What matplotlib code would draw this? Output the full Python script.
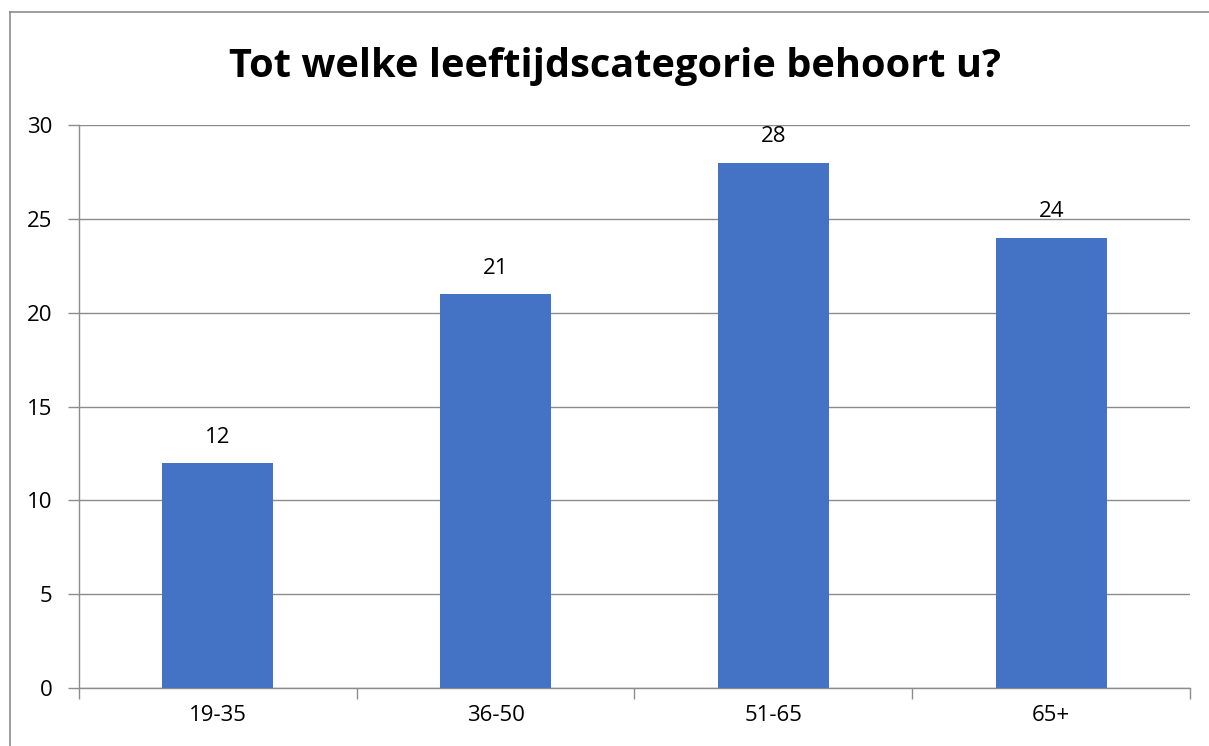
import matplotlib
matplotlib.use("Agg")
import matplotlib.pyplot as plt
from matplotlib.lines import Line2D

# survey counts per age group
categories = ["19-35", "36-50", "51-65", "65+"]
counts = [12, 21, 28, 24]
y_ticks = [0, 5, 10, 15, 20, 25, 30]

plt.rcParams['font.family'] = ['Open Sans', 'DejaVu Sans']

fig = plt.figure(figsize=(12.09, 7.46), dpi=100)
ax = fig.add_axes([0.0653, 0.0777, 0.9190, 0.7547])

x = range(len(categories))
ax.bar(x, counts, width=0.4, color="#4472C4", zorder=3)
for xi, v in zip(x, counts):
    ax.annotate(str(v), (xi, v), xytext=(0, 11), textcoords="offset points",
                ha="center", va="bottom", fontsize=16, color="#000000")

ax.set_xlim(-0.5, len(categories) - 0.5)
ax.set_ylim(0, 30)
ax.set_yticks(y_ticks)
ax.set_yticklabels([str(t) for t in y_ticks], fontsize=16)
ax.yaxis.grid(True, color="#8c8c8c", linewidth=1.0, zorder=0)

# category labels centred, tick marks on the boundaries
ax.set_xticks(list(x))
ax.set_xticklabels(categories, fontsize=16)
ax.tick_params(axis="x", length=0, pad=12)
ax.set_xticks([i - 0.5 for i in range(len(categories) + 1)], minor=True)
ax.tick_params(axis="x", which="minor", length=8, color="#8c8c8c", width=1.0)
ax.tick_params(axis="y", length=8, color="#8c8c8c", width=1.0, pad=11)

for side in ["top", "right"]:
    ax.spines[side].set_visible(False)
for side in ["left", "bottom"]:
    ax.spines[side].set_color("#8c8c8c")
    ax.spines[side].set_linewidth(1.0)

fig.text(0.509, 1 - 67 / 746, "Tot welke leeftijdscategorie behoort u?",
         fontsize=28.6, fontweight="bold", ha="center", va="center")

# chart area border
fig.add_artist(Line2D([10 / 1209, 10 / 1209], [0, 1 - 12 / 746],
                      transform=fig.transFigure, color="#8c8c8c", linewidth=1.2))
fig.add_artist(Line2D([10 / 1209, 1], [1 - 12 / 746, 1 - 12 / 746],
                      transform=fig.transFigure, color="#8c8c8c", linewidth=1.2))

fig.savefig("out.png", dpi=100, facecolor="white")
